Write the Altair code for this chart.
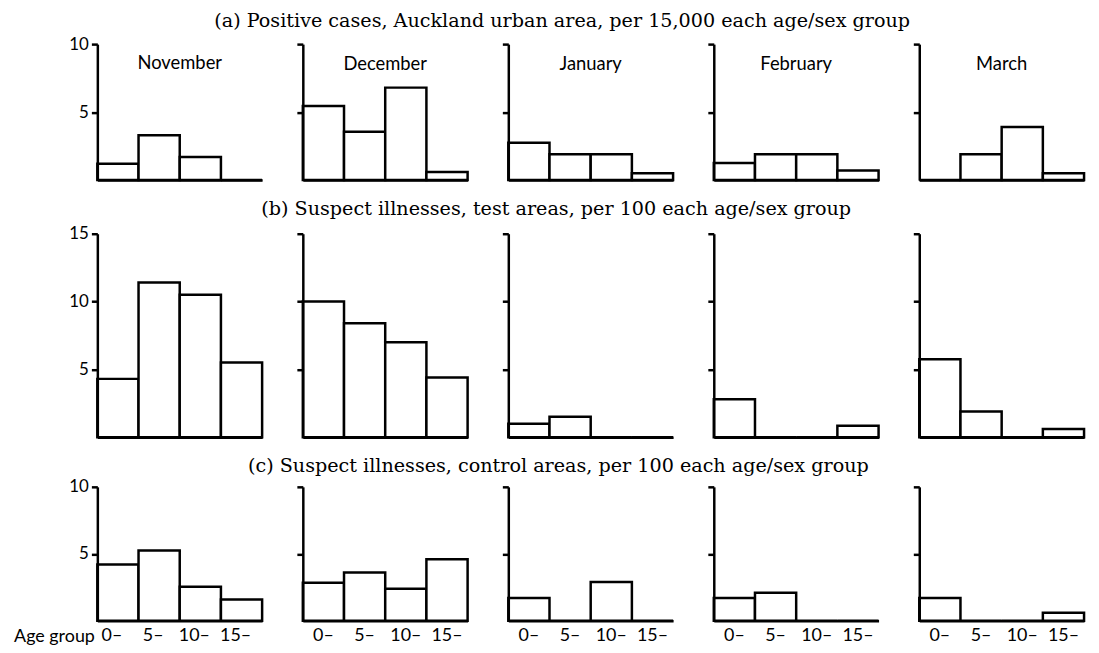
import altair as alt
import pandas as pd

months = ["November", "December", "January", "February", "March"]
ages = ["0–", "5–", "10–", "15–"]

# (a) Positive cases, Auckland urban area, per 15,000 each age/sex group
positive_auckland = {
    "November": [1.2, 3.3, 1.7, 0.0],
    "December": [5.45, 3.55, 6.8, 0.6],
    "January": [2.75, 1.9, 1.9, 0.5],
    "February": [1.25, 1.9, 1.9, 0.7],
    "March": [0.0, 1.9, 3.9, 0.5],
}
# (b) Suspect illnesses, test areas, per 100 each age/sex group
suspect_test = {
    "November": [4.3, 11.4, 10.5, 5.5],
    "December": [10.0, 8.4, 7.0, 4.4],
    "January": [1.0, 1.5, 0.0, 0.0],
    "February": [2.8, 0.0, 0.0, 0.85],
    "March": [5.75, 1.9, 0.0, 0.6],
}
# (c) Suspect illnesses, control areas, per 100 each age/sex group
suspect_control = {
    "November": [4.2, 5.25, 2.55, 1.6],
    "December": [2.85, 3.6, 2.4, 4.6],
    "January": [1.7, 0.0, 2.9, 0.0],
    "February": [1.7, 2.1, 0.0, 0.0],
    "March": [1.7, 0.0, 0.0, 0.6],
}

row_titles = [
    "(a)  Positive cases, Auckland urban area, per 15,000 each age/sex group",
    "(b)  Suspect illnesses, test areas, per 100 each age/sex group",
    "(c)  Suspect illnesses, control areas, per 100 each age/sex group",
]
row_data = [positive_auckland, suspect_test, suspect_control]
row_max = [10, 15, 10]
row_ticks = [[5, 10], [5, 10, 15], [5, 10]]
row_height = [137, 205, 135]
row_title_offset = [4, 6, 2]
row_title_dx = [-15, -21, 9]

SANS = "Lato"
SERIF = "DejaVu Serif"
LW = 2.5
PW = 166


def panel(r, month, i):
    df = pd.DataFrame({"age": ages, "value": row_data[r][month]})
    first = i == 0
    last_row = r == 2
    y_axis = alt.Axis(
        values=row_ticks[r], labels=first, ticks=True, tickSize=6,
        tickWidth=LW, tickColor="black", domainColor="black", domainWidth=LW,
        grid=False, title=None, labelFont=SANS, labelFontSize=17,
        labelColor="black", labelPadding=3, zindex=1,
    )
    x_kwargs = dict(
        labels=last_row, ticks=False, domainColor="black", domainWidth=LW,
        labelAngle=0, labelFont=SANS, labelFontSize=18, labelColor="black",
        labelPadding=6, grid=False, zindex=1,
    )
    if last_row and first:
        x_axis = alt.Axis(
            title="Age group", titleAngle=0, titleAlign="right",
            titleBaseline="middle", titleX=-3, titleY=16, titleFont=SANS,
            titleFontSize=18, titleFontWeight="normal", titleColor="black",
            labelOffset=-6, **x_kwargs,
        )
    else:
        x_axis = alt.Axis(title=None, **x_kwargs)
    props = dict(width=PW, height=row_height[r])
    if r == 0:
        props["title"] = alt.TitleParams(
            text=month, offset=-38 if first else -31, font=SANS, fontSize=18.5,
            fontWeight="normal", color="black", anchor="middle",
        )
    return (
        alt.Chart(df)
        .mark_bar(fill="white", stroke="black", strokeWidth=LW)
        .encode(
            x=alt.X("age:N", sort=ages,
                    scale=alt.Scale(domain=ages, paddingInner=0, paddingOuter=0),
                    axis=x_axis),
            y=alt.Y("value:Q", scale=alt.Scale(domain=[0, row_max[r]], nice=False),
                    axis=y_axis),
        )
        .properties(**props)
    )


rows = []
for r in range(3):
    rows.append(
        alt.hconcat(
            *[panel(r, m, i) for i, m in enumerate(months)],
            spacing=41, bounds="flush",
            title=alt.TitleParams(
                text=row_titles[r], font=SERIF, fontSize=19.3, fontWeight="normal",
                color="black", anchor="middle", offset=row_title_offset[r],
                dx=row_title_dx[r],
            ),
        )
    )

chart = (
    alt.vconcat(*rows, spacing=17)
    .properties(padding={"left": 5, "top": 1, "right": 5, "bottom": 5},
                background="white")
    .configure_view(stroke=None)
)

chart.save("out.html", embed_options={"renderer": "svg", "actions": False})
